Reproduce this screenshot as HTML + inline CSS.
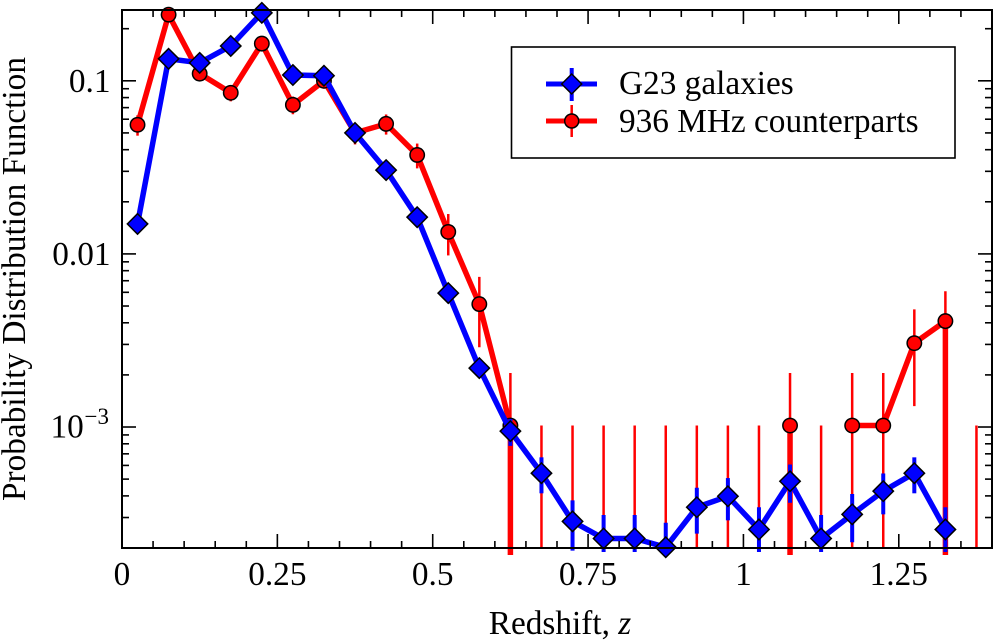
<!DOCTYPE html>
<html>
<head>
<meta charset="utf-8">
<title>Probability Distribution Function vs Redshift</title>
<style>
html,body{margin:0;padding:0;background:#fff;}
svg{display:block;font-family:"Liberation Serif",serif;fill:#000;}
</style>
</head>
<body>
<svg id="chart" xmlns="http://www.w3.org/2000/svg" width="997" height="642" viewBox="0 0 997 642">
<defs>
<clipPath id="clip-lines"><rect x="122" y="0" width="870" height="555"/></clipPath>
<clipPath id="clip-blue-err"><rect x="122" y="0" width="870" height="552"/></clipPath>
<clipPath id="clip-red-err"><rect x="122" y="10" width="870" height="539"/></clipPath>
</defs>
<g id="series-layer"></g>
<g id="axes-layer"></g>
<g id="labels-layer"></g>
<text transform="translate(25,279) rotate(-90)" text-anchor="middle" font-size="33.3">Probability Distribution Function</text>
<text x="560" y="634" text-anchor="middle" font-size="33.3">Redshift, <tspan font-style="italic">z</tspan></text>
<g>
<rect x="511.5" y="47" width="443.5" height="111" fill="#fff" stroke="#000" stroke-width="1.6"/>
<g>
<line x1="546" x2="597" y1="84" y2="84" stroke="#0000ff" stroke-width="5"/>
<line x1="571.7" x2="571.7" y1="68" y2="101" stroke="#0000ff" stroke-width="4"/>
<path d="M571.7 74L581.7 84L571.7 94L561.7 84Z" fill="#0000ff" stroke="#000" stroke-width="1.5"/>
<text x="619" y="94" font-size="33.3">G23 galaxies</text>
</g>
<g>
<line x1="546" x2="597" y1="121" y2="121" stroke="#ff0000" stroke-width="5"/>
<line x1="571.7" x2="571.7" y1="105" y2="137" stroke="#ff0000" stroke-width="2.5"/>
<circle cx="571.7" cy="121" r="7" fill="#ff0000" stroke="#000" stroke-width="1.5"/>
<text x="619" y="132" font-size="33.3">936 MHz counterparts</text>
</g>
</g>
</svg>
<script>
const redshiftBins = [0.025,0.075,0.125,0.175,0.225,0.275,0.325,0.375,0.425,0.475,0.525,0.575,0.625,0.675,0.725,0.775,0.825,0.875,0.925,0.975,1.025,1.075,1.125,1.175,1.225,1.275,1.325,1.375];
const galaxyValues = [0.0149,0.134,0.127,0.159,0.247,0.108,0.107,0.050,0.0305,0.0163,0.00594,0.00219,0.000946,0.000541,0.000285,0.000227,0.000227,0.000202,0.000344,0.000398,0.000256,0.000486,0.000227,0.000313,0.000426,0.000541,0.000256,null];
const galaxyErrors = [0.00067,0.0020,0.00195,0.00218,0.00272,0.0018,0.00179,0.00122,0.00096,0.0007,0.00042,0.000256,0.000168,0.000127,0.000092,0.000083,0.000083,0.000078,0.000102,0.000109,0.000088,0.000121,0.000083,0.000097,0.000113,0.000127,0.000088,null];
const radioValues = [0.0557,0.241,0.110,0.0853,0.164,0.0726,0.100,0.050,0.0564,0.0373,0.0134,0.00513,0.00102,0,0,0,0,0,0,0,0,0.00102,0,0.00102,0.00102,0.00305,0.00409,0];
const radioErrors = [0.0075,0.0155,0.0105,0.0092,0.0128,0.0085,0.01,0.0071,0.0075,0.0061,0.0036,0.00224,0.00103,0.00102,0.00102,0.00102,0.00102,0.00102,0.00102,0.00102,0.00102,0.00103,0.00102,0.00103,0.00103,0.00173,0.002,0.00102];
const xTickValues = [0,0.25,0.5,0.75,1,1.25];
const xTickLabels = ["0","0.25","0.5","0.75","1","1.25"];
const yTickLabelValues = [0.1,0.01];
const yTickLabels = ["0.1","0.01"];
const yDomain = [0.0002,0.2565];
const xDomain = [0,1.4];

const NS = "http://www.w3.org/2000/svg";
const plotLeft = 122, plotRight = 992, plotTop = 10, plotBottom = 548;
const xScale = v => plotLeft + (v - xDomain[0]) / (xDomain[1] - xDomain[0]) * (plotRight - plotLeft);
const yScale = v => plotBottom - (Math.log10(v) - Math.log10(yDomain[0])) / (Math.log10(yDomain[1]) - Math.log10(yDomain[0])) * (plotBottom - plotTop);
const belowPlot = 560;
const seriesLayer = document.getElementById("series-layer");
const axesLayer = document.getElementById("axes-layer");
const labelsLayer = document.getElementById("labels-layer");

function mk(parent, tag, attrs) {
  const el = document.createElementNS(NS, tag);
  for (const k in attrs) el.setAttribute(k, attrs[k]);
  parent.appendChild(el);
  return el;
}
function safeY(v) { return v > 0 ? yScale(v) : belowPlot; }

function drawLine(values, color) {
  const g = mk(seriesLayer, "g", {"clip-path": "url(#clip-lines)"});
  
  
  let d = "";
  let pen = false;
  values.forEach((v, i) => {
    if (v === null) { pen = false; return; }
    if (v > 0) {
      d += (pen ? "L" : "M") + xScale(redshiftBins[i]) + " " + yScale(v);
      pen = true;
    } else if (pen) {
      d += "L" + xScale(redshiftBins[i - 1]) + " " + belowPlot;
      pen = false;
    }
  });
  mk(g, "path", {d: d, fill: "none", stroke: color, "stroke-width": 5.5, "stroke-linejoin": "miter"});
}
function drawErrors(values, errors, color, width, clip) {
  const g = mk(seriesLayer, "g", {"clip-path": "url(#" + clip + ")"});
  
  
  values.forEach((v, i) => {
    if (v === null) return;
    const x = xScale(redshiftBins[i]);
    const hi = v + errors[i];
    const lo = v - errors[i];
    const bar = mk(g, "line", {x1: x, x2: x, y1: yScale(hi), y2: safeY(lo), stroke: color, "stroke-width": width});
    
    
  });
}

drawLine(radioValues, "#ff0000");
drawErrors(radioValues, radioErrors, "#ff0000", 2.5, "clip-red-err");
radioValues.forEach((v, i) => {
  if (!(v > 0)) return;
  const c = mk(seriesLayer, "circle", {cx: xScale(redshiftBins[i]), cy: yScale(v), r: 7.2, fill: "#ff0000", stroke: "#000", "stroke-width": 1.5});
  
  
});
drawErrors(galaxyValues, galaxyErrors, "#0000ff", 4, "clip-blue-err");
drawLine(galaxyValues, "#0000ff");
galaxyValues.forEach((v, i) => {
  if (!(v > 0)) return;
  const x = xScale(redshiftBins[i]), y = yScale(v), r = 10.2;
  const p = mk(seriesLayer, "path", {d: `M${x} ${y - r}L${x + r} ${y}L${x} ${y + r}L${x - r} ${y}Z`, fill: "#0000ff", stroke: "#000", "stroke-width": 1.5});
  
  
});

/* frame */
const frame = mk(axesLayer, "rect", {x: plotLeft, y: plotTop, width: plotRight - plotLeft, height: plotBottom - plotTop, fill: "none", stroke: "#000", "stroke-width": 2});



/* x ticks */
for (let k = 1; k * 0.05 < xDomain[1] - 1e-9; k++) {
  const v = k * 0.05;
  const x = xScale(v);
  const len = k % 5 === 0 ? 14 : 7;
  const b = mk(axesLayer, "line", {x1: x, x2: x, y1: plotBottom, y2: plotBottom - len, stroke: "#000", "stroke-width": 1.6});
  
  
  const t = mk(axesLayer, "line", {x1: x, x2: x, y1: plotTop, y2: plotTop + len, stroke: "#000", "stroke-width": 1.6});
  
  
}
/* y ticks */
for (let e = -4; e <= 0; e++) {
  for (let m = 1; m <= 9; m++) {
    const v = m * Math.pow(10, e);
    if (v < yDomain[0] * 1.001 || v > yDomain[1]) continue;
    const y = yScale(v);
    const len = m === 1 ? 14 : 7;
    const l = mk(axesLayer, "line", {x1: plotLeft, x2: plotLeft + len, y1: y, y2: y, stroke: "#000", "stroke-width": 1.6});
    
    
    const r = mk(axesLayer, "line", {x1: plotRight, x2: plotRight - len, y1: y, y2: y, stroke: "#000", "stroke-width": 1.6});
    
    
  }
}
/* labels */
xTickValues.forEach((v, i) => {
  const t = mk(labelsLayer, "text", {x: xScale(v), y: 585, "text-anchor": "middle", "font-size": 33.3});
  
  
  t.textContent = xTickLabels[i];
});
yTickLabelValues.forEach((v, i) => {
  const t = mk(labelsLayer, "text", {x: 110.5, y: yScale(v) + 11, "text-anchor": "end", "font-size": 33.3});
  
  
  t.textContent = yTickLabels[i];
});
const expBase = mk(labelsLayer, "text", {x: 50.5, y: yScale(0.001) + 10.5, "font-size": 33.3});


expBase.textContent = "10";
const expPow = mk(labelsLayer, "text", {x: 84.5, y: yScale(0.001) - 3, "font-size": 23});


expPow.textContent = "\u22123";
</script>
</body>
</html>
